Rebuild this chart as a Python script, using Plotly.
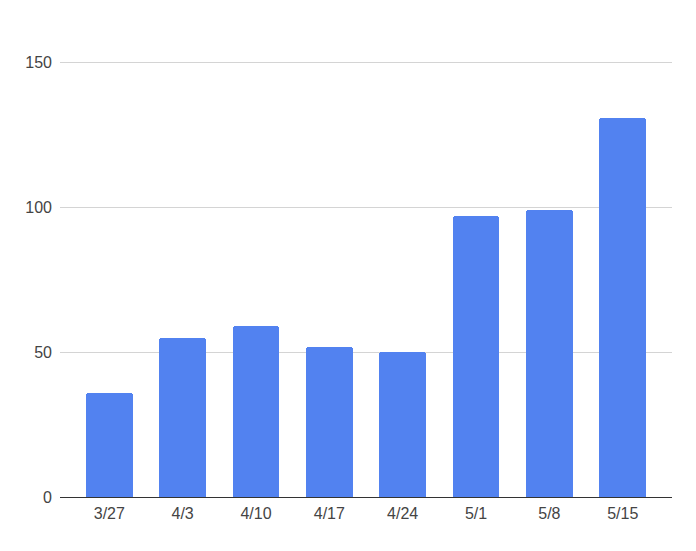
import plotly.graph_objects as go

categories = ["3/27", "4/3", "4/10", "4/17", "4/24", "5/1", "5/8", "5/15"]
values = [36, 55, 59, 52, 50, 97, 99, 131]
y_ticks = [0, 50, 100, 150]

fig = go.Figure(
    go.Bar(
        x=list(range(len(categories))),
        y=values,
        width=0.637,
        marker=dict(color="#5282f0", line=dict(width=0), cornerradius=3),
        hoverinfo="skip",
    )
)

# page body has an 8px default margin, margins compensate for it
fig.update_layout(
    width=696,
    height=551,
    margin=dict(l=52, r=32, t=52, b=62),
    paper_bgcolor="white",
    plot_bgcolor="white",
    font=dict(family="Liberation Sans, Arial, sans-serif", size=16, color="#444444"),
    showlegend=False,
    bargap=0,
)
fig.update_xaxes(
    tickmode="array",
    tickvals=list(range(len(categories))),
    ticktext=categories,
    range=[-0.672, len(categories) - 1 + 0.672],
    showgrid=False,
    zeroline=False,
    showline=False,
    ticks="",
    ticklabelstandoff=5,
)
fig.update_yaxes(
    range=[0, 151],
    tickmode="array",
    tickvals=y_ticks,
    showgrid=True,
    gridcolor="#d4d4d4",
    gridwidth=1,
    zeroline=True,
    zerolinecolor="#333333",
    zerolinewidth=1,
    showline=False,
    ticks="",
    ticklabelstandoff=7,
)

fig.write_html("out.html")
